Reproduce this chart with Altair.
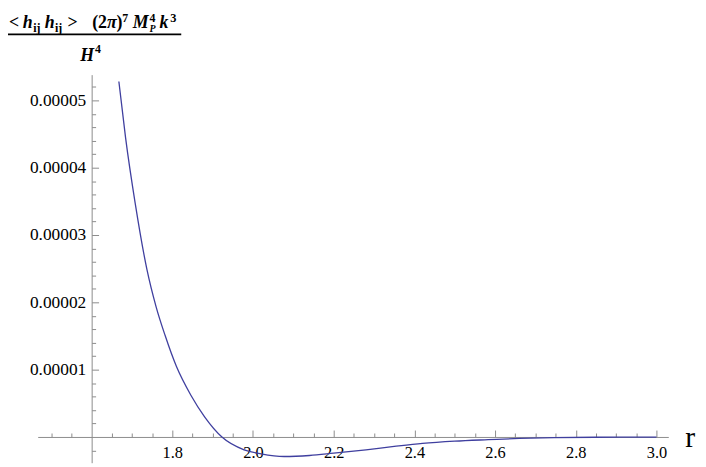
import altair as alt
import pandas as pd

# ---- data ----
r_vals = [1.6675, 1.684, 1.708, 1.737, 1.76, 1.782, 1.81, 1.846, 1.88, 1.923, 1.978,
          2.02, 2.077, 2.14, 2.2, 2.28, 2.35, 2.42, 2.5, 2.583, 2.66, 2.747, 2.85, 3.0]
h_vals = [5.28e-5, 4.45e-5, 3.47e-5, 2.49e-5, 1.93e-5, 1.51e-5, 1.05e-5, 0.62e-5, 0.30e-5,
          0.0, -0.19e-5, -0.25e-5, -0.29e-5, -0.275e-5, -0.24e-5, -0.19e-5, -0.14e-5,
          -0.095e-5, -0.062e-5, -0.04e-5, -0.022e-5, -0.01e-5, -0.004e-5, -0.001e-5]

x_label_vals = [1.8, 2.0, 2.2, 2.4, 2.6, 2.8, 3.0]
x_tick_vals = [1.5, 1.55, 1.65, 1.7, 1.75, 1.8, 1.85, 1.9, 1.95, 2.0, 2.05, 2.1, 2.15, 2.2,
               2.25, 2.3, 2.35, 2.4, 2.45, 2.5, 2.55, 2.6, 2.65, 2.7, 2.75, 2.8, 2.85, 2.9,
               2.95, 3.0]
y_label_vals = [1e-5, 2e-5, 3e-5, 4e-5, 5e-5]
y_tick_vals = [-0.2e-5, 0.2e-5, 0.4e-5, 0.6e-5, 0.8e-5, 1.0e-5, 1.2e-5, 1.4e-5, 1.6e-5, 1.8e-5,
               2.0e-5, 2.2e-5, 2.4e-5, 2.6e-5, 2.8e-5, 3.0e-5, 3.2e-5, 3.4e-5, 3.6e-5, 3.8e-5,
               4.0e-5, 4.2e-5, 4.4e-5, 4.6e-5, 4.8e-5, 5.0e-5, 5.2e-5]

df = pd.DataFrame({"r": r_vals, "h": h_vals})

X_DOMAIN = [1.4663, 3.0294]
Y_DOMAIN = [-3.82e-6, 5.382e-5]
W, H = 637, 392
AX = "#8c8c8c"
FONT = "Liberation Serif, Times New Roman, Times, DejaVu Serif, serif"

xs = alt.Scale(domain=X_DOMAIN, nice=False, zero=False)
ys = alt.Scale(domain=Y_DOMAIN, nice=False, zero=False)

x_tick_axis = alt.Axis(
    orient="top", offset=-366, values=x_tick_vals, labels=False, title=None, grid=False,
    domainColor=AX, tickColor=AX, domainWidth=1, tickWidth=1,
    tickSize={"condition": {"test": "abs(datum.value*5 - round(datum.value*5)) < 0.01", "value": 7},
              "value": 4})
y_tick_axis = alt.Axis(
    orient="right", offset=-582.5, values=y_tick_vals, labels=False, title=None, grid=False,
    domainColor=AX, tickColor=AX, domainWidth=1, tickWidth=1,
    tickSize={"condition": {"test": "abs(datum.value*1e5 - round(datum.value*1e5)) < 0.01", "value": 7},
              "value": 4})
x_label_axis = alt.Axis(
    orient="bottom", offset=-26, values=x_label_vals, format=".1f", ticks=False, domain=False,
    grid=False, title=None, labelFont=FONT, labelFontSize=16.5, labelColor="black",
    labelPadding=8, labelOverlap=False, labelFlush=False)
y_label_axis = alt.Axis(
    orient="left", offset=-54.5, values=y_label_vals, format=".5f", ticks=False, domain=False,
    grid=False, title=None, labelFont=FONT, labelFontSize=17.5, labelColor="black",
    labelPadding=6, labelOverlap=False, labelFlush=False)

curve = alt.Chart(df).mark_line(color="#3f3f9f", strokeWidth=1.3, interpolate="monotone", clip=False).encode(
    x=alt.X("r:Q", scale=xs, axis=x_tick_axis),
    y=alt.Y("h:Q", scale=ys, axis=y_tick_axis),
)
labels = alt.Chart(df).mark_point(opacity=0).encode(
    x=alt.X("r:Q", scale=xs, axis=x_label_axis),
    y=alt.Y("h:Q", scale=ys, axis=y_label_axis),
)

one = pd.DataFrame({"k": [0]})
OX, OY = 38, 73  # page position of plot origin


def txt(s, px, py, size=18, style="normal", weight="bold"):
    return alt.Chart(one).mark_text(
        text=s, font=FONT, fontSize=size, fontStyle=style, fontWeight=weight,
        align="left", baseline="alphabetic", color="black"
    ).encode(x=alt.value(px - OX), y=alt.value(py - OY))


title_parts = [
    txt("<", 9, 26),
    txt("h", 23, 26, style="italic"),
    txt("ij", 33.5, 29.5, size=12),
    txt("h", 45, 26, style="italic"),
    txt("ij", 55.5, 29.5, size=12),
    txt(">", 68, 26),
    txt("(2", 93, 26),
    txt("π", 108, 26, style="italic"),
    txt(")", 117.5, 26),
    txt("7", 123.5, 19.5, size=12),
    txt("M", 134, 26, style="italic"),
    txt("4", 151, 19.5, size=12),
    txt("P", 151, 29.5, size=10, style="italic"),
    txt("k", 161, 26, style="italic"),
    txt("3", 172, 19.5, size=12.5),
    txt("H", 81, 59, style="italic"),
    txt("4", 96, 51, size=12),
    txt("r", 692, 449, size=30, weight="normal"),
]

frac_line = alt.Chart(one).mark_rule(color="black", strokeWidth=1.6).encode(
    x=alt.value(3 - OX), x2=alt.value(183 - OX), y=alt.value(32.3 - OY))

chart = alt.layer(curve, labels, frac_line, *title_parts).resolve_axis(
    x="independent", y="independent"
).properties(
    width=W, height=H,
    autosize=alt.AutoSizeParams(type="none"),
    padding={"left": 30, "top": 65, "right": 30, "bottom": 0},
).configure_view(stroke=None)

chart.save("out.html", embed_options={"renderer": "svg", "actions": False})
